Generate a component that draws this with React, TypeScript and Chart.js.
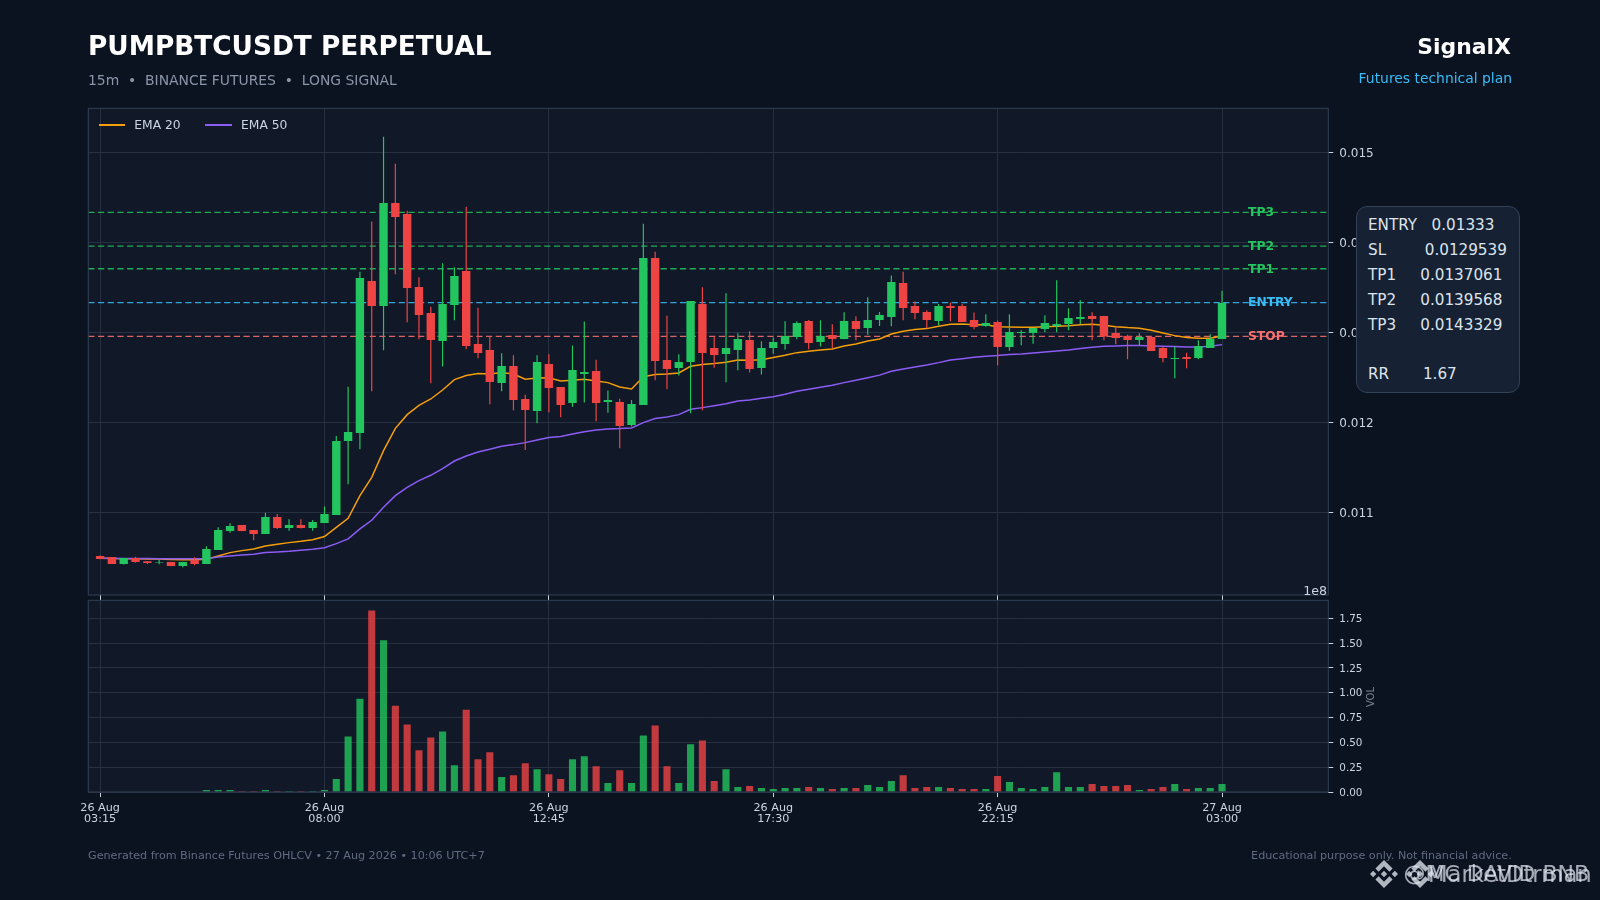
import React, { useEffect, useRef } from "react";
import { Chart, registerables } from "chart.js";

Chart.register(...registerables);

const FONT = "'DejaVu Sans', sans-serif";
Chart.defaults.font.family = FONT;

// Prices are read in thousandths of a USDT.
const opens = [10.515,10.504,10.426,10.493,10.456,10.441,10.448,10.404,10.47,10.426,10.581,10.793,10.859,10.804,10.759,10.948,10.826,10.859,10.826,10.881,10.97,11.793,11.881,13.57,13.293,14.437,14.315,13.504,13.215,12.904,13.304,13.681,12.87,12.804,12.437,12.626,12.259,12.126,12.648,12.393,12.215,12.537,12.57,12.226,12.226,11.97,12.193,13.826,12.693,12.604,12.67,13.315,12.826,12.759,12.804,12.915,12.604,12.826,12.87,12.948,13.126,12.893,12.97,12.926,13.126,13.048,13.137,13.17,13.548,13.293,13.226,13.126,13.293,13.293,13.137,13.07,13.115,12.837,12.993,12.993,13.037,13.07,13.093,13.148,13.181,13.181,12.993,12.959,12.915,12.948,12.826,12.704,12.726,12.715,12.826,12.926];
const highs = [10.519,10.504,10.493,10.507,10.46,10.47,10.45,10.45,10.5,10.622,10.833,10.878,10.859,10.804,10.996,10.981,10.922,10.922,10.915,11.063,11.848,12.396,13.674,14.23,15.174,14.874,14.352,13.611,13.285,13.767,13.722,14.396,13.274,12.952,12.767,12.744,12.307,12.744,12.756,12.393,12.852,13.119,12.696,12.352,12.263,12.248,14.207,13.896,13.185,12.756,13.348,13.5,12.948,13.433,12.989,13.011,12.9,12.941,13.122,13.122,13.137,13.133,13.089,13.222,13.178,13.389,13.226,13.63,13.674,13.341,13.244,13.315,13.33,13.315,13.219,13.2,13.13,13.2,13.022,13.048,13.189,13.578,13.267,13.356,13.222,13.185,13.063,12.974,12.989,12.952,12.841,12.841,12.774,12.911,12.978,13.463];
const lows = [10.478,10.426,10.419,10.44,10.426,10.422,10.4,10.389,10.411,10.426,10.58,10.774,10.79,10.689,10.759,10.815,10.796,10.82,10.796,10.881,10.97,11.311,11.7,12.344,12.8,13.644,13.111,12.922,12.433,12.619,13.133,12.811,12.711,12.2,12.344,12.133,11.693,11.989,12.111,12.056,12.174,12.219,12.011,12.107,11.711,11.952,12.193,12.467,12.367,12.519,12.1,12.133,12.607,12.444,12.578,12.552,12.53,12.763,12.807,12.922,12.811,12.841,12.822,12.922,12.911,12.974,13.07,13.067,13.133,13.144,13.044,13.078,13.122,13.115,13.033,13.063,12.633,12.796,12.856,12.874,13.004,13,13.022,13.093,12.911,12.911,12.867,12.7,12.852,12.793,12.667,12.489,12.6,12.7,12.826,12.926];
const closes = [10.481,10.426,10.493,10.448,10.437,10.448,10.404,10.448,10.426,10.593,10.804,10.848,10.793,10.759,10.948,10.826,10.859,10.826,10.893,10.981,11.793,11.893,13.604,13.293,14.437,14.281,13.493,13.193,12.915,13.315,13.626,12.848,12.77,12.448,12.626,12.248,12.137,12.67,12.381,12.193,12.581,12.559,12.215,12.248,11.959,12.204,13.826,12.681,12.593,12.67,13.348,12.77,12.748,12.826,12.926,12.593,12.826,12.893,12.959,13.104,12.881,12.959,12.926,13.126,13.037,13.137,13.193,13.559,13.27,13.215,13.137,13.293,13.27,13.115,13.059,13.104,12.837,13.004,13.004,13.048,13.104,13.093,13.159,13.17,13.148,12.952,12.937,12.915,12.948,12.793,12.715,12.715,12.704,12.848,12.926,13.326];
const ema20 = [10.49,10.486,10.485,10.485,10.482,10.48,10.476,10.472,10.472,10.478,10.515,10.552,10.574,10.593,10.626,10.644,10.663,10.678,10.696,10.73,10.833,10.933,11.185,11.389,11.685,11.933,12.085,12.189,12.259,12.359,12.474,12.519,12.541,12.537,12.552,12.537,12.478,12.493,12.496,12.459,12.467,12.478,12.459,12.441,12.393,12.37,12.507,12.53,12.537,12.548,12.622,12.641,12.652,12.667,12.693,12.689,12.696,12.719,12.744,12.774,12.789,12.804,12.815,12.848,12.87,12.904,12.925,12.981,13.011,13.03,13.041,13.067,13.089,13.093,13.085,13.085,13.063,13.059,13.056,13.056,13.063,13.067,13.074,13.085,13.089,13.078,13.063,13.052,13.044,13.022,12.993,12.963,12.941,12.933,12.933,12.959];
const ema50 = [10.489,10.488,10.487,10.487,10.486,10.485,10.484,10.483,10.483,10.485,10.504,10.515,10.526,10.533,10.552,10.559,10.567,10.578,10.589,10.607,10.652,10.704,10.815,10.911,11.056,11.185,11.278,11.352,11.411,11.485,11.57,11.626,11.67,11.7,11.733,11.752,11.774,11.804,11.83,11.841,11.87,11.896,11.915,11.926,11.93,11.937,11.996,12.041,12.059,12.085,12.144,12.163,12.185,12.207,12.237,12.248,12.267,12.285,12.311,12.344,12.367,12.389,12.411,12.441,12.467,12.495,12.524,12.567,12.593,12.615,12.637,12.663,12.693,12.707,12.722,12.733,12.741,12.752,12.759,12.77,12.781,12.793,12.804,12.819,12.833,12.844,12.848,12.852,12.852,12.848,12.844,12.841,12.837,12.837,12.844,12.863];
// Volume in units of 1e8.
const volumes = [0,0,0,0,0,0,0,0,0,0.02,0.02,0.02,0.01,0.01,0.02,0.01,0.01,0.01,0.01,0.02,0.13,0.56,0.94,1.83,1.53,0.87,0.68,0.42,0.55,0.61,0.27,0.83,0.33,0.4,0.15,0.17,0.29,0.23,0.18,0.13,0.33,0.36,0.26,0.09,0.22,0.09,0.57,0.67,0.26,0.09,0.48,0.52,0.11,0.23,0.05,0.06,0.04,0.03,0.04,0.04,0.05,0.04,0.03,0.04,0.04,0.07,0.05,0.11,0.17,0.04,0.05,0.05,0.04,0.03,0.03,0.03,0.16,0.1,0.04,0.03,0.05,0.2,0.05,0.05,0.08,0.06,0.06,0.07,0.02,0.03,0.05,0.08,0.03,0.04,0.04,0.08];

const timeTickIndex = [0, 19, 38, 57, 76, 95];
const timeTickDate = ["26 Aug", "26 Aug", "26 Aug", "26 Aug", "26 Aug", "27 Aug"];
const timeTickClock = ["03:15", "08:00", "12:45", "17:30", "22:15", "03:00"];
const priceTicks = [0.011, 0.012, 0.013, 0.014, 0.015];
const volumeTicks = [0, 0.25, 0.5, 0.75, 1, 1.25, 1.5, 1.75];

const levelNames = ["TP3", "TP2", "TP1", "ENTRY", "STOP"];
const levelValues = [0.0143329, 0.0139568, 0.0137061, 0.01333, 0.0129539];
const levelColors = ["#22c55e", "#22c55e", "#22c55e", "#38bdf8", "#f87171"];

const legendNames = ["EMA 20", "EMA 50"];
const legendColors = ["#f59e0b", "#8b5cf6"];

const panelLines = ["ENTRY   0.01333", "SL        0.0129539", "TP1     0.0137061", "TP2     0.0139568", "TP3     0.0143329", " ", "RR       1.67"];

const GREEN = "#22c55e";
const RED = "#ef4444";
const GREEN_VOL = "rgba(34,197,94,0.8)";
const RED_VOL = "rgba(239,68,68,0.8)";
const PAGE_BG = "#0b1220";
const PLOT_BG = "#111827";
const GRID = "#263040";
const SPINE = "#334155";
const TICK = "#cbd5e1";

const up = closes.map((c, i) => c >= opens[i]);

const frame = {
  id: "frame",
  beforeDraw(chart: any) {
    const a = chart.chartArea;
    chart.ctx.save();
    chart.ctx.fillStyle = PLOT_BG;
    chart.ctx.fillRect(a.left, a.top, a.right - a.left, a.bottom - a.top);
    chart.ctx.restore();
  },
  afterDraw(chart: any) {
    const a = chart.chartArea;
    chart.ctx.save();
    chart.ctx.strokeStyle = SPINE;
    chart.ctx.lineWidth = 1;
    chart.ctx.strokeRect(a.left, a.top, a.right - a.left, a.bottom - a.top);
    chart.ctx.restore();
  },
};

const levelLabels = {
  id: "levelLabels",
  beforeDatasetsDraw(chart: any) {
    const { ctx, scales } = chart;
    ctx.save();
    ctx.font = `bold 12.3px ${FONT}`;
    ctx.textBaseline = "middle";
    levelNames.forEach((name, i) => {
      ctx.fillStyle = levelColors[i];
      ctx.fillText(name, scales.x.getPixelForValue(97.2), scales.y.getPixelForValue(levelValues[i]) + 0.6);
    });
    ctx.restore();
  },
};

function timeAxis(showLabels: boolean, height: number) {
  return {
    type: "linear",
    min: -1,
    max: 104,
    offset: false,
    afterBuildTicks: (s: any) => {
      s.ticks = timeTickIndex.map((v) => ({ value: v }));
    },
    afterFit: (s: any) => {
      s.height = height;
    },
    grid: { color: GRID, lineWidth: 1, tickColor: TICK, tickLength: 5, tickWidth: 1, offset: false },
    border: { display: false },
    ticks: {
      display: showLabels,
      autoSkip: false,
      maxRotation: 0,
      padding: 5,
      color: TICK,
      font: { size: 11.2, lineHeight: 1.0 },
      callback: (v: any) => {
        const k = timeTickIndex.indexOf(v);
        return k < 0 ? "" : [timeTickDate[k], timeTickClock[k]];
      },
    },
  };
}

function valueAxis(min: number, max: number, values: number[], digits: number, size: number, labelOffset: number) {
  return {
    position: "right",
    min,
    max,
    afterBuildTicks: (s: any) => {
      s.ticks = values.map((v) => ({ value: v }));
    },
    afterFit: (s: any) => {
      s.width = 60;
    },
    grid: { color: GRID, lineWidth: 1, tickColor: TICK, tickLength: 5, tickWidth: 1 },
    border: { display: false },
    ticks: {
      autoSkip: false,
      padding: 6,
      labelOffset,
      color: TICK,
      font: { size },
      callback: (v: any) => Number(v).toFixed(digits),
    },
  };
}

const T = ({ x, y, right, size, color, bold, children }: any) => (
  <span
    style={{
      position: "absolute",
      left: right === undefined ? x : undefined,
      right: right === undefined ? undefined : 1600 - right,
      top: y,
      transform: "translateY(-50%)",
      fontFamily: FONT,
      fontSize: size,
      fontWeight: bold ? 700 : 400,
      color,
      whiteSpace: "pre",
      lineHeight: 1,
    }}
  >
    {children}
  </span>
);

const Diamond = ({ x, y, s }: any) => (
  <svg style={{ position: "absolute", left: x, top: y, width: s, height: s }} viewBox="0 0 126.61 126.61">
    <path
      fill="rgba(214,220,228,0.82)"
      d="M38.73 53.2l24.59-24.58 24.6 24.6 14.3-14.31L63.32 0 24.43 38.9z M0 63.31l14.3-14.31 14.31 14.31-14.31 14.3z M38.73 73.41l24.59 24.59 24.6-24.6 14.31 14.29-38.9 38.91-38.91-38.88z M98 63.31l14.3-14.31 14.31 14.3-14.31 14.32z M77.83 63.3L63.32 48.78 48.81 63.28l14.51 14.5z"
    />
  </svg>
);

export default function App() {
  const priceRef = useRef<HTMLCanvasElement>(null);
  const volRef = useRef<HTMLCanvasElement>(null);

  useEffect(() => {
    document.body.style.margin = "0";
    document.body.style.background = PAGE_BG;
    const scale = (v: number) => v / 1000;
    const levelData = levelValues.map((v, i) => ({
      type: "line",
      label: levelNames[i],
      data: [{ x: -1, y: v }, { x: 104, y: v }],
      borderColor: levelColors[i] + "dd",
      borderWidth: 1.3,
      borderDash: [6.2, 3.5],
      pointRadius: 0,
      order: 4,
    }));
    const price = new Chart(priceRef.current as any, {
      type: "bar",
      data: {
        datasets: [
          ...levelData,
          {
            type: "line",
            label: legendNames[0],
            data: ema20.map((v, i) => ({ x: i, y: scale(v) })),
            borderColor: legendColors[0],
            borderWidth: 1.5,
            pointRadius: 0,
            order: 3,
          },
          {
            type: "line",
            label: legendNames[1],
            data: ema50.map((v, i) => ({ x: i, y: scale(v) })),
            borderColor: legendColors[1],
            borderWidth: 1.5,
            pointRadius: 0,
            order: 2,
          },
          {
            label: "wick",
            data: lows.map((l, i) => ({ x: i, y: [scale(l), scale(highs[i])] })),
            backgroundColor: up.map((u) => (u ? GREEN : RED)),
            barThickness: 1.2,
            grouped: false,
            inflateAmount: 0,
            order: 1,
          },
          {
            label: "body",
            data: opens.map((o, i) => ({ x: i, y: [scale(o), scale(closes[i])] })),
            backgroundColor: up.map((u) => (u ? GREEN : RED)),
            barThickness: 8.4,
            grouped: false,
            inflateAmount: 0,
            order: 0,
          },
        ] as any,
      },
      options: {
        responsive: false,
        animation: false,
        layout: { padding: { left: 88.3, top: 108.3, right: 211.7, bottom: 20 } },
        plugins: { legend: { display: false }, tooltip: { enabled: false } },
        scales: {
          x: timeAxis(false, 5),
          y: valueAxis(0.010081, 0.015489, priceTicks, 3, 12, 1.5),
        },
      } as any,
      plugins: [frame, levelLabels],
    });
    const volume = new Chart(volRef.current as any, {
      type: "bar",
      data: {
        datasets: [
          {
            label: "VOL",
            data: volumes.map((v, i) => ({ x: i, y: v })),
            backgroundColor: up.map((u) => (u ? GREEN_VOL : RED_VOL)),
            barThickness: 7.1,
            grouped: false,
            inflateAmount: 0,
          },
        ] as any,
      },
      options: {
        responsive: false,
        animation: false,
        layout: { padding: { left: 88.3, top: 600.3, right: 211.7, bottom: 68 } },
        plugins: { legend: { display: false }, tooltip: { enabled: false } },
        scales: {
          x: timeAxis(true, 40),
          y: valueAxis(0, 1.932, volumeTicks, 2, 10.4, 1),
        },
      } as any,
      plugins: [frame],
    });
    return () => {
      price.destroy();
      volume.destroy();
    };
  }, []);

  return (
    <div style={{ position: "fixed", left: 0, top: 0, width: 1600, height: 900, background: PAGE_BG, overflow: "hidden" }}>
      <canvas ref={priceRef} width={1600} height={620} style={{ position: "absolute", left: 0, top: 0, width: 1600, height: 620 }} />
      <canvas ref={volRef} width={1600} height={900} style={{ position: "absolute", left: 0, top: 0, width: 1600, height: 900 }} />

      <T x={88} y={45.5} size={26.35} color="#ffffff" bold>PUMPBTCUSDT PERPETUAL</T>
      <T x={88} y={81} size={13.9} color="#8a96a8">{"15m  •  BINANCE FUTURES  •  LONG SIGNAL"}</T>
      <T right={1511} y={47} size={21.9} color="#ffffff" bold>SignalX</T>
      <T right={1512} y={78.5} size={13.9} color="#38bdf8">Futures technical plan</T>

      {legendNames.map((name, i) => (
        <React.Fragment key={name}>
          <div style={{ position: "absolute", left: 98.5 + i * 106.7, top: 124, width: 26.5, height: 2, background: legendColors[i] }} />
          <T x={134.3 + i * 106.7} y={124.7} size={12.3} color="#cbd5e1">{name}</T>
        </React.Fragment>
      ))}

      <T right={1327} y={591} size={12.6} color="#cbd5e1">1e8</T>

      <span
        style={{
          position: "absolute",
          left: 1371,
          top: 697,
          transform: "translate(-50%,-50%) rotate(-90deg)",
          fontFamily: FONT,
          fontSize: 10,
          color: "#7a8494",
          lineHeight: 1,
        }}
      >
        VOL
      </span>

      <div
        style={{
          position: "absolute",
          left: 1355.7,
          top: 205.7,
          width: 164,
          height: 187.6,
          boxSizing: "border-box",
          background: "#162134",
          border: "1.3px solid #334155",
          borderRadius: 11,
        }}
      />
      <div style={{ position: "absolute", left: 1368, top: 213.2, fontFamily: FONT, fontSize: 15.2, lineHeight: "24.85px", color: "#dde4ec", whiteSpace: "pre" }}>
        {panelLines.map((l, i) => (
          <div key={i}>{l}</div>
        ))}
      </div>

      <T x={88} y={856} size={11.15} color="#5f6c80">Generated from Binance Futures OHLCV • 27 Aug 2026 • 10:06 UTC+7</T>
      <T right={1511.7} y={856} size={11.15} color="#5f6c80">Educational purpose only. Not financial advice.</T>

      <Diamond x={1370} y={860} s={28} />
      <Diamond x={1406} y={860} s={28} />
      <T x={1403.5} y={874} size={22} color="rgba(226,232,240,0.72)">@MC DAVID BNB</T>
      <T x={1428} y={874} size={22.7} color="rgba(226,232,240,0.72)">MarketDtrman</T>
    </div>
  );
}
